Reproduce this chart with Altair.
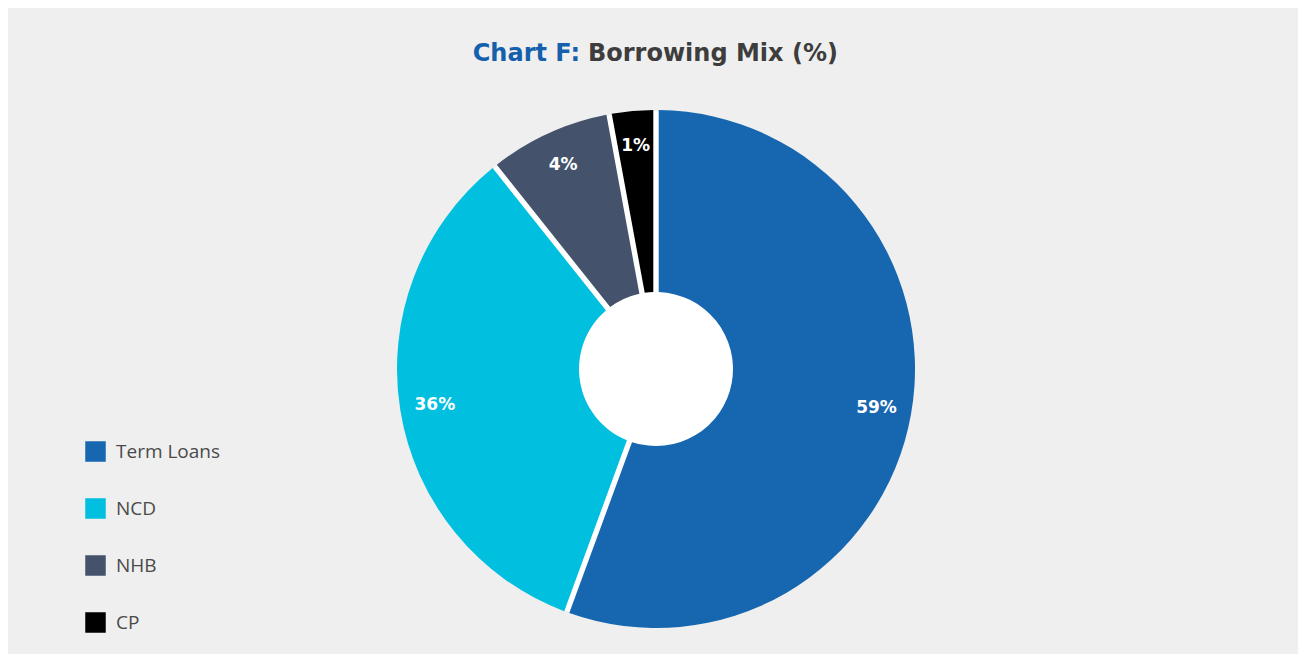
import altair as alt
import pandas as pd

categories = ["Term Loans", "NCD", "NHB", "CP"]
shares = [55.6, 33.7, 7.8, 2.9]
labels = ["59%", "36%", "4%", "1%"]
order = [1, 2, 3, 4]
colors = ["#1666b0", "#00bfdf", "#44536b", "#000000"]
title_a = ["Chart F:"]
title_b = ["Borrowing Mix (%)"]

df = pd.DataFrame({"category": categories, "share": shares, "label": labels, "order": order})

W, H = 1290, 646
CX, CY = 648, 361
R_OUT, R_IN = 259, 77
WIDE = "DejaVu Sans"
LEG = "Open Sans"

disc = alt.Chart(pd.DataFrame({"d": [1]})).mark_arc(
    color="white", theta=0, theta2=6.2832, outerRadius=R_OUT - 1, innerRadius=0
).encode(x=alt.value(CX), y=alt.value(CY))

base = alt.Chart(df).encode(
    theta=alt.Theta("share:Q", stack=True),
    order=alt.Order("order:Q"),
)

slices = base.mark_arc(outerRadius=R_OUT, innerRadius=R_IN, padAngle=0.02).encode(
    color=alt.Color(
        "category:N",
        sort=categories,
        scale=alt.Scale(domain=categories, range=colors),
        legend=alt.Legend(
            orient="none", legendX=77, legendY=433, title=None,
            symbolType="square", symbolSize=420, symbolStrokeWidth=0,
            labelFontSize=19, labelColor="#4a4a4a", labelFont=LEG,
            rowPadding=36, labelOffset=10,
        ),
    ),
    x=alt.value(CX), y=alt.value(CY),
)

texts = base.mark_text(radius=224, fontSize=17, fontWeight="bold", color="white", font=WIDE).encode(
    text="label:N", x=alt.value(CX), y=alt.value(CY)
)

t1 = alt.Chart(pd.DataFrame({"t": title_a})).mark_text(
    align="right", baseline="middle", fontSize=24, fontWeight="bold", color="#1560ad", font=WIDE
).encode(text="t:N", x=alt.value(572), y=alt.value(46))

t2 = alt.Chart(pd.DataFrame({"t": title_b})).mark_text(
    align="left", baseline="middle", fontSize=24, fontWeight="bold", color="#3d3d3d", font=WIDE
).encode(text="t:N", x=alt.value(580), y=alt.value(46))

chart = alt.layer(disc, slices, texts, t1, t2).properties(
    width=W, height=H, padding=0, autosize="none", background="#efefef"
).configure_view(stroke=None)

chart.save("out.html", embed_options={"renderer": "svg", "actions": False})
